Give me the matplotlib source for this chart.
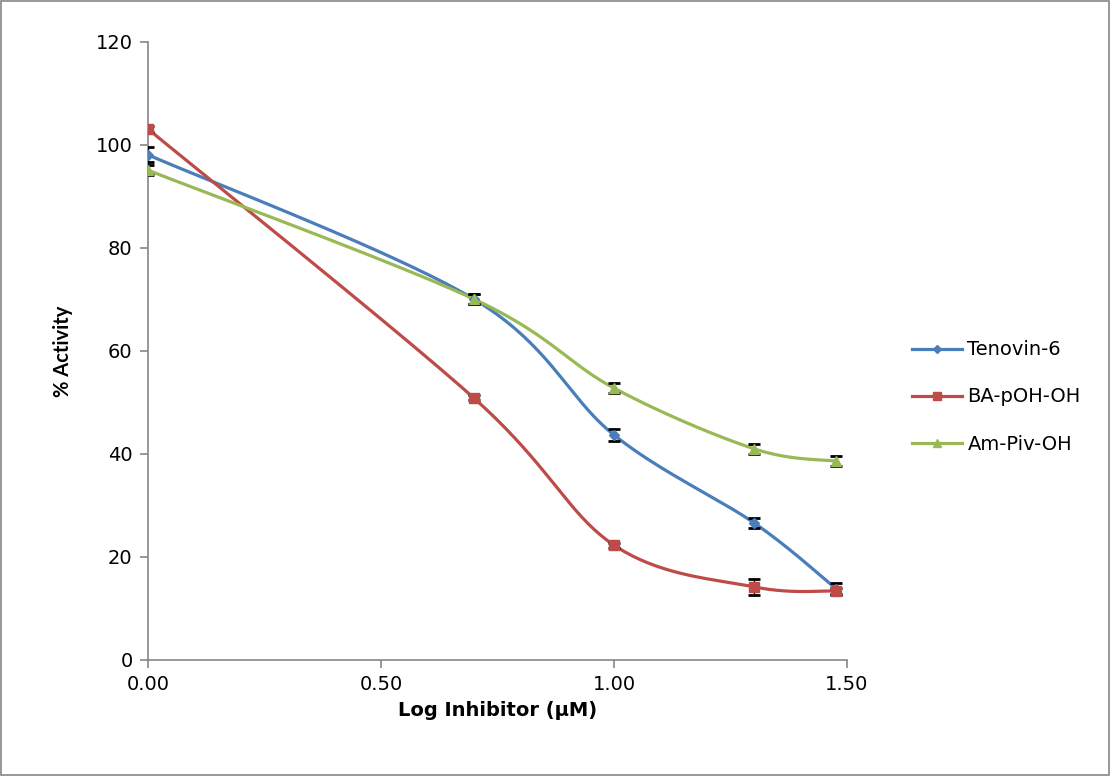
import numpy as np
import matplotlib
matplotlib.use('Agg')
import matplotlib.pyplot as plt

plt.rcParams['font.family'] = ['DejaVu Sans']

# Log concentration (log 1, 5, 10, 20, 30 uM)
log_conc = [0.0, 0.699, 1.0, 1.301, 1.477]

series_names = ['Tenovin-6', 'BA-pOH-OH', 'Am-Piv-OH']
tenovin = [98.1, 70.1, 43.7, 26.6, 13.8]
ba_poh = [103.1, 50.9, 22.3, 14.2, 13.4]
am_piv = [95.1, 70.1, 52.8, 41.0, 38.6]

tenovin_err = [1.5, 1.0, 1.1, 1.0, 1.2]
ba_poh_err = [0.5, 0.5, 0.5, 1.6, 0.5]
am_piv_err = [1.0, 1.0, 1.0, 1.0, 1.0]

colors = ['#4A7EBB', '#BE4B48', '#98B954']
markers = ['D', 's', '^']
msizes = [5.5, 6.5, 7.0]


def smooth(x, y, n=40):
    # Excel style smoothed line (Bezier through points)
    x = np.asarray(x, float)
    y = np.asarray(y, float)
    px = np.concatenate([[x[0]], x, [x[-1]]])
    py = np.concatenate([[y[0]], y, [y[-1]]])
    t = np.linspace(0, 1, n)
    xs, ys = [], []
    for i in range(1, len(px) - 2):
        p0 = np.array([px[i], py[i]])
        p3 = np.array([px[i + 1], py[i + 1]])
        c1 = p0 + (np.array([px[i + 1], py[i + 1]]) - np.array([px[i - 1], py[i - 1]])) / 6
        c2 = p3 - (np.array([px[i + 2], py[i + 2]]) - np.array([px[i], py[i]])) / 6
        b = ((1 - t) ** 3)[:, None] * p0 + (3 * (1 - t) ** 2 * t)[:, None] * c1 \
            + (3 * (1 - t) * t ** 2)[:, None] * c2 + (t ** 3)[:, None] * p3
        xs.append(b[:, 0])
        ys.append(b[:, 1])
    return np.concatenate(xs), np.concatenate(ys)


fig = plt.figure(figsize=(11.1, 7.76), dpi=100)
ax = fig.add_axes([0.1333, 0.1495, 0.6297, 0.7964])

data = [tenovin, ba_poh, am_piv]
errs = [tenovin_err, ba_poh_err, am_piv_err]
for name, vals, err, c, m, ms in zip(series_names, data, errs, colors, markers, msizes):
    sx, sy = smooth(log_conc, vals)
    ax.plot(sx, sy, color=c, lw=2.3, zorder=2)
    ax.errorbar(log_conc, vals, yerr=err, fmt='none', ecolor='black',
                elinewidth=1.0, capsize=4.3, capthick=2.0, zorder=3)
    ax.plot(log_conc, vals, ls='none', marker=m, color=c, ms=ms, zorder=4)
    ax.plot([], [], color=c, lw=2.3, marker=m, ms=ms * 0.8, label=name)

ax.set_xlim(0, 1.5)
ax.set_ylim(0, 120)
ax.set_xticks([0, 0.5, 1.0, 1.5])
ax.set_xticklabels(['0.00', '0.50', '1.00', '1.50'])
ax.set_yticks(range(0, 121, 20))
for s in ['top', 'right']:
    ax.spines[s].set_visible(False)
for s in ['left', 'bottom']:
    ax.spines[s].set_color('#868686')
    ax.spines[s].set_linewidth(1.2)
ax.tick_params(axis='both', direction='out', length=6, color='#868686', width=1.2,
               labelsize=14, pad=5)
ax.set_xlabel('Log Inhibitor (µM)', fontsize=14, fontweight='bold', labelpad=5)
ax.set_ylabel('% Activity', fontsize=14.5, fontweight='bold', labelpad=16,
              family=['Lato', 'DejaVu Sans'])

ax.legend(loc='center left', bbox_to_anchor=(912 / 1110, 1 - 397 / 776),
          bbox_transform=fig.transFigure, frameon=False, borderpad=0,
          borderaxespad=0, fontsize=14, handlelength=2.55, labelspacing=1.45,
          handletextpad=0.3)

# outer chart border
fig.patches.append(plt.Rectangle((0.001, 0.001), 0.998, 0.998, transform=fig.transFigure,
                                 fill=False, edgecolor='#868686', lw=1.2))

fig.savefig('out.png', dpi=100)
